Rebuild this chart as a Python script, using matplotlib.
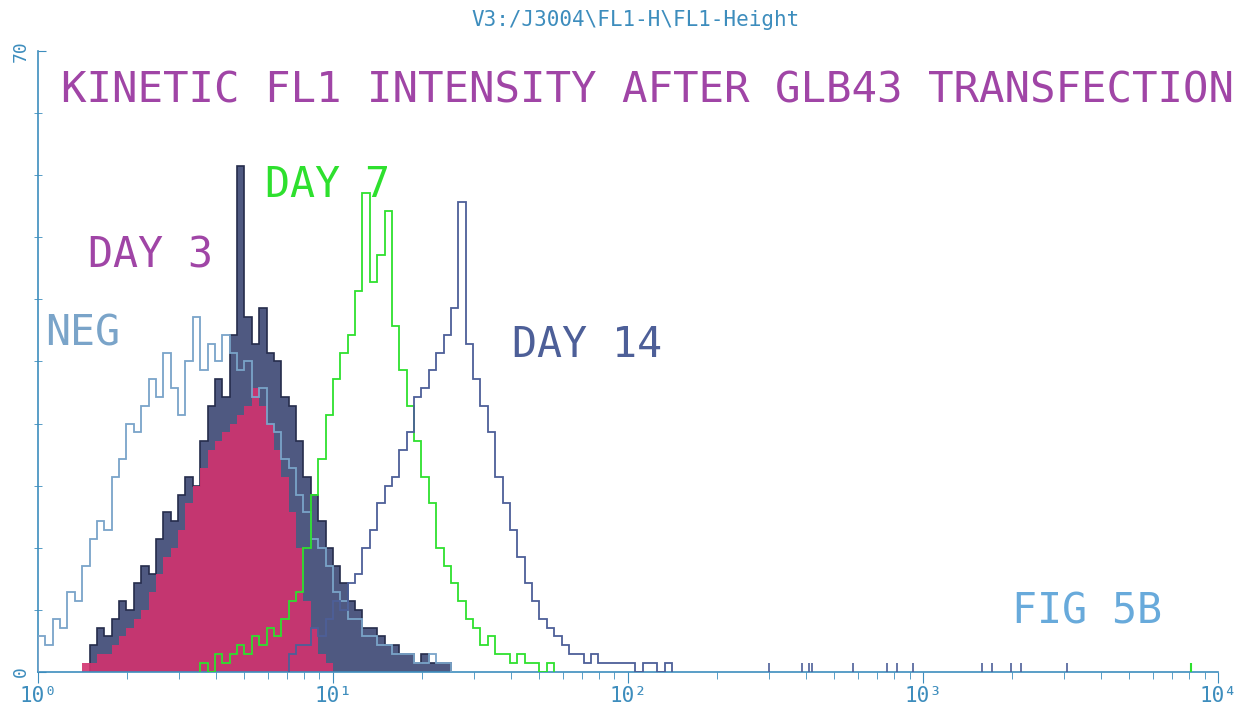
import numpy as np
import matplotlib
matplotlib.use("Agg")
from matplotlib import pyplot as plt
from matplotlib.ticker import LogLocator, NullFormatter, FixedLocator

plt.rcParams['font.family'] = ['DejaVu Sans Mono', 'DejaVu Sans']

# channel width in decades (log FL1 scale)
BIN = 0.025

# NEG  (starts at bin 0)
neg_start = 0
neg_counts = [4, 3, 6, 5, 9, 8, 12, 15, 17, 16, 22, 24, 28, 27, 30, 33, 31, 36,
              32, 29, 35, 40, 34, 37, 35, 38, 36, 34, 35, 31, 32, 28, 27, 24,
              23, 20, 18, 15, 14, 12, 9, 8, 6, 6, 4, 4, 3, 3, 2, 2, 2, 1, 1,
              2, 1, 1]

# dark overlay population
dark_start = 7
dark_counts = [3, 5, 4, 6, 8, 7, 10, 12, 11, 15, 18, 17, 20, 22, 21, 26, 30,
               33, 31, 38, 57, 40, 37, 41, 36, 35, 31, 30, 26, 22, 20, 17, 14,
               12, 10, 8, 7, 5, 5, 4, 3, 3, 2, 2, 1, 2, 1, 1, 1]

# DAY 3 (filled)
day3_start = 6
day3_counts = [1, 1, 2, 2, 3, 4, 5, 6, 7, 9, 11, 13, 14, 16, 19, 21, 23, 25,
               26, 27, 28, 29, 30, 32, 30, 28, 25, 22, 18, 14, 8, 5, 2, 1]

# DAY 7
day7_start = 22
day7_counts = [1, 0, 2, 1, 2, 3, 2, 4, 3, 5, 4, 6, 8, 9, 14, 20, 24, 29, 33,
               36, 38, 43, 54, 44, 47, 52, 39, 34, 30, 26, 22, 19, 14, 12, 10,
               8, 6, 5, 3, 4, 2, 2, 1, 2, 1, 1, 0, 1]

# DAY 14
day14_start = 34
day14_counts = [2, 3, 3, 5, 4, 6, 8, 7, 10, 11, 14, 16, 19, 21, 22, 25, 27,
                31, 32, 34, 36, 38, 41, 53, 37, 33, 30, 27, 22, 19, 16, 13, 10,
                8, 6, 5, 4, 3, 2, 2, 1, 2, 1, 1, 1, 1, 1, 0, 1, 1, 0, 1]

# isolated high events
tail_x = [300, 390, 410, 420, 580, 755, 815, 925, 1580, 1715, 1990, 2150, 3075]
tail_h = [1, 1, 1, 1, 1, 1, 1, 1, 1, 1, 1, 1, 1]
tail7_x = [8090]
tail7_h = [1]

xticks = [1, 10, 100, 1000, 10000]
xtick_labels = ["10⁰", "10¹", "10²", "10³", "10⁴"]

c_axis = "#3d8dbd"
c_neg = "#7aa4c9"
c_dark = "#3c4773"
c_dark_edge = "#252c4c"
c_day3 = "#d2336f"
c_day3_txt = "#a045a6"
c_day7 = "#2ee02e"
c_day14 = "#4d5f98"


def edges(start, n):
    return 10 ** (BIN * np.arange(start, start + n + 1))


fig = plt.figure(figsize=(12.57, 7.06), dpi=100)
ax = fig.add_axes([0.0302, 0.0482, 0.9388, 0.8796])

ax.stairs(dark_counts, edges(dark_start, len(dark_counts)), fill=True,
          color=c_dark, alpha=0.9, zorder=1)
ax.stairs(dark_counts, edges(dark_start, len(dark_counts)), color=c_dark_edge,
          linewidth=1.2, zorder=1)
ax.stairs(day3_counts, edges(day3_start, len(day3_counts)), fill=True,
          color=c_day3, alpha=0.9, zorder=2)
ax.stairs(neg_counts, edges(neg_start, len(neg_counts)), color=c_neg,
          linewidth=1.3, zorder=3)
ax.stairs(day7_counts, edges(day7_start, len(day7_counts)), color=c_day7,
          linewidth=1.3, zorder=4)
ax.stairs(day14_counts, edges(day14_start, len(day14_counts)), color=c_day14,
          linewidth=1.3, zorder=5)
ax.vlines(tail_x, 0, tail_h, color=c_day14, linewidth=1.2, zorder=5)
ax.vlines(tail7_x, 0, tail7_h, color=c_day7, linewidth=1.5, zorder=5)

ax.set_xscale('log')
ax.set_xlim((1, 10000))
ax.set_ylim((0, 70))

for s in ('top', 'right'):
    ax.spines[s].set_visible(False)
for s in ('left', 'bottom'):
    ax.spines[s].set_color(c_axis)
    ax.spines[s].set_linewidth(1.2)

ax.set_xticks(xticks)
ax.set_xticklabels(xtick_labels)
ax.xaxis.set_minor_locator(LogLocator(base=10, subs=np.arange(2, 10)))
ax.xaxis.set_minor_formatter(NullFormatter())
ax.tick_params(axis='x', which='major', direction='out', length=8,
               color=c_axis, labelcolor=c_axis, labelsize=15, pad=2)
ax.tick_params(axis='x', which='minor', direction='out', length=5,
               color=c_axis)

ax.set_yticks([0, 70])
ax.set_yticklabels(["0", "70"], rotation=90, va='center')
ax.yaxis.set_minor_locator(FixedLocator(np.arange(7, 70, 7)))
ax.tick_params(axis='y', which='major', direction='in', length=6,
               color=c_axis, labelcolor=c_axis, labelsize=13, pad=6)
ax.tick_params(axis='y', which='minor', direction='inout', length=6,
               color=c_axis)

fig.text(0.506, 0.972, "V3:/J3004\\FL1-H\\FL1-Height", ha='center',
         va='center', fontsize=15, color=c_axis)
fig.text(0.515, 0.872, "KINETIC FL1 INTENSITY AFTER GLB43 TRANSFECTION",
         ha='center', va='center', fontsize=30.5, color=c_day3_txt)

ax.text(1.06, 38.2, "NEG", fontsize=30, color=c_neg, va='center')
ax.text(1.48, 47, "DAY 3", fontsize=30, color=c_day3_txt, va='center')
ax.text(5.88, 54.9, "DAY 7", fontsize=30, color=c_day7, va='center')
ax.text(40.4, 36.9, "DAY 14", fontsize=30, color=c_day14, va='center')
ax.text(2000, 6.8, "FIG 5B", fontsize=30, color="#68aadb", va='center')

fig.savefig("out.png", dpi=100)
